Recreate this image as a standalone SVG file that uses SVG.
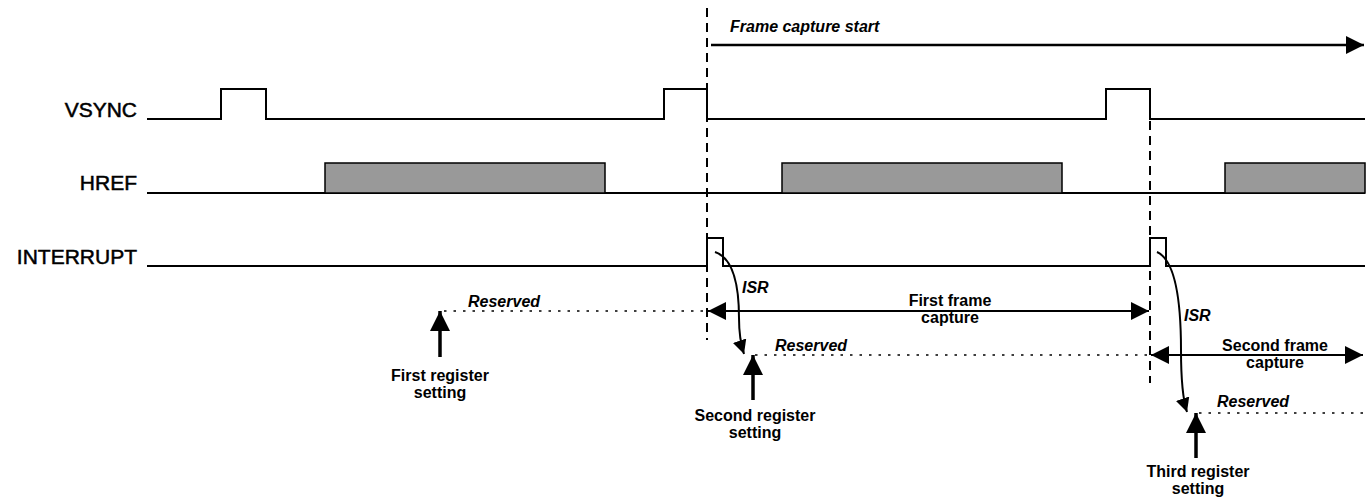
<svg xmlns="http://www.w3.org/2000/svg" width="1370" height="497" viewBox="0 0 1370 497">
<style>
.sig{fill:none;stroke:#000;stroke-width:2}
.lbl{font-family:"Liberation Sans",Arial,sans-serif;font-size:21px;fill:#000;stroke:#000;stroke-width:0.5;text-anchor:end}
.t{font-family:"Liberation Sans",Arial,sans-serif;font-size:16px;font-weight:bold;fill:#000;text-anchor:middle}
.ti{font-family:"Liberation Sans",Arial,sans-serif;font-size:16px;font-weight:bold;font-style:italic;fill:#000}
.dash{fill:none;stroke:#000;stroke-width:2;stroke-dasharray:9,6}
.dot{fill:none;stroke:#000;stroke-width:1.6;stroke-dasharray:2.5,7}
.arr{fill:none;stroke:#000;stroke-width:2}
.up{fill:none;stroke:#000;stroke-width:3.5}
.href{fill:#999;stroke:#000;stroke-width:1.5}
</style>
<defs>
<marker id="ah" markerUnits="userSpaceOnUse" markerWidth="18" markerHeight="18" viewBox="0 0 18 18" refX="18" refY="9" orient="auto-start-reverse"><path d="M0,0 L18,9 L0,18 z" fill="#000"/></marker>
<marker id="ahBig" markerUnits="userSpaceOnUse" markerWidth="20" markerHeight="20" viewBox="0 0 20 20" refX="20" refY="10" orient="auto"><path d="M0,0 L20,10 L0,20 z" fill="#000"/></marker>
<marker id="ahS" markerUnits="userSpaceOnUse" markerWidth="14" markerHeight="14" viewBox="0 0 14 14" refX="14" refY="7" orient="auto"><path d="M0,0 L14,7 L0,14 z" fill="#000"/></marker>
</defs>

<g id="labels">
<text class="lbl" x="137" y="116.5">VSYNC</text>
<text class="lbl" x="137" y="190">HREF</text>
<text class="lbl" x="137" y="263.5">INTERRUPT</text>
</g>

<g id="vsync">
<path class="sig" d="M147,119 H221 V89 H266 V119 H664 V89 H707 V119 H1106 V89 H1150 V119 H1365"/>
</g>

<g id="href">
<path class="sig" d="M147,193 H1365"/>
<rect class="href" x="325" y="163" width="280" height="30"/>
<rect class="href" x="782" y="163" width="280" height="30"/>
<rect class="href" x="1225" y="163" width="140" height="30"/>
</g>

<g id="interrupt">
<path class="sig" d="M147,266 H707 V238 H723 V266 H1150 V238 H1166 V266 H1365"/>
</g>

<g id="connectors">
<line class="dash" x1="707" y1="8" x2="707" y2="340"/>
<line class="dash" x1="1150" y1="121" x2="1150" y2="383"/>
<line class="arr" style="stroke-width:2.6" x1="711" y1="45" x2="1364" y2="45" marker-end="url(#ah)"/>
<line class="dot" x1="444" y1="311" x2="706" y2="311"/>
<line class="dot" x1="755" y1="355" x2="1149" y2="355"/>
<line class="dot" x1="1199" y1="413" x2="1366" y2="413"/>
<line class="arr" x1="708" y1="311" x2="1149" y2="311" marker-start="url(#ah)" marker-end="url(#ah)"/>
<line class="arr" x1="1151" y1="355" x2="1363" y2="355" marker-start="url(#ah)" marker-end="url(#ah)"/>
<line class="up" x1="440" y1="357" x2="440" y2="311" marker-end="url(#ahBig)"/>
<line class="up" x1="753" y1="400" x2="753" y2="355" marker-end="url(#ahBig)"/>
<line class="up" x1="1196" y1="458" x2="1196" y2="413" marker-end="url(#ahBig)"/>
<path class="arr" d="M715,252 C733,258 739,285 739,318 C739,335 741,345 744,354" marker-end="url(#ahS)"/>
<path class="arr" d="M1157,252 C1175,260 1181,300 1181,350 C1181,380 1183,400 1187,412" marker-end="url(#ahS)"/>
</g>

<g id="texts">
<text class="ti" x="730" y="32">Frame capture start</text>
<text class="ti" x="468" y="307">Reserved</text>
<text class="ti" x="775" y="351">Reserved</text>
<text class="ti" x="1217" y="407">Reserved</text>
<text class="ti" x="742" y="293">ISR</text>
<text class="ti" x="1184" y="321">ISR</text>
<text class="t" x="950" y="306">First frame</text>
<text class="t" x="950" y="323">capture</text>
<text class="t" x="1275" y="351">Second frame</text>
<text class="t" x="1275" y="368">capture</text>
<text class="t" x="440" y="381">First register</text>
<text class="t" x="440" y="398">setting</text>
<text class="t" x="755" y="421">Second register</text>
<text class="t" x="755" y="438">setting</text>
<text class="t" x="1198" y="477">Third register</text>
<text class="t" x="1198" y="494">setting</text>
</g>
</svg>
